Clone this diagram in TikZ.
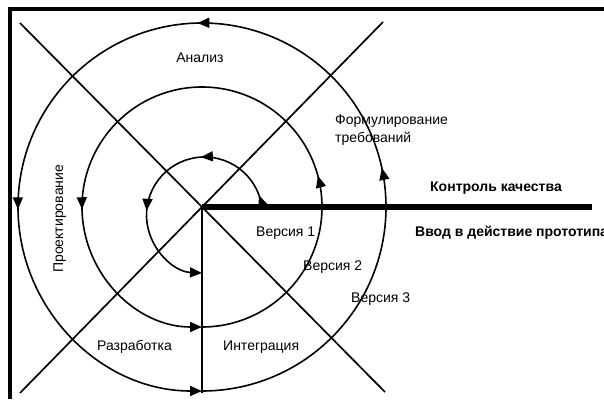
\documentclass[tikz,border=0pt]{standalone}
\usepackage{fontspec}
\setmainfont{Liberation Sans}
\usetikzlibrary{arrows.meta,decorations.markings}
\begin{document}
\begin{tikzpicture}[x=1pt,y=1pt,
  >={Triangle[length=12pt,width=10pt]},
  frame/.style={line width=4.5pt,line join=miter},
  thinline/.style={line width=1.7pt},
  thickline/.style={line width=6pt},
  curve/.style={line width=1.6pt},
  lbl/.style={font=\fontsize{14}{17}\selectfont,inner sep=0pt},
  blbl/.style={font=\fontsize{14}{17}\selectfont\bfseries,inner sep=0pt}
]
\useasboundingbox (0,0) rectangle (604,399);
% key points
\coordinate (C) at (202,192);
\coordinate (fbl) at (10,0);
\coordinate (ftl) at (10,390);
\coordinate (ftr) at (604,390);
\coordinate (dA1) at (20,376);
\coordinate (dA2) at (385,7);
\coordinate (dB1) at (383,377);
\coordinate (dB2) at (20,6);
\coordinate (vE) at (202,6);
\coordinate (hE) at (592,192);
\coordinate (ci) at (204.5,184);
% frame
\draw[frame] (fbl) -- (ftl) -- (ftr);
% axes
\draw[thinline] (dA1) -- (dA2);
\draw[thinline] (dB1) -- (dB2);
\draw[thinline] (C) -- (vE);
\draw[thickline] (C) -- (hE);
% outer circle
\draw[curve,->,postaction={decorate},decoration={markings,
   mark=at position 0.284 with {\arrow{>}},
   mark=at position 0.504 with {\arrow{>}},
   mark=at position 0.752 with {\arrow{>}}}]
   (C) ++(270:184) arc[start angle=270,end angle=630,radius=184];
% middle circle
\draw[curve,->,postaction={decorate},decoration={markings,
   mark=at position 0.292 with {\arrow{>}},
   mark=at position 0.753 with {\arrow{>}}}]
   (C) ++(270:120) arc[start angle=270,end angle=630,radius=120];
% inner arc
\draw[curve,->,postaction={decorate},decoration={markings,
   mark=at position 0.046 with {\arrow{>}},
   mark=at position 0.33 with {\arrow{>}},
   mark=at position 0.647 with {\arrow{>}}}]
   (ci) ++(7.9:58) arc[start angle=7.9,end angle=267.5,radius=58];
% labels
\node[lbl,anchor=base] (analiz) at (200,336) {Анализ};
\node[lbl,anchor=base west] (form1) at (335,274) {Формулирование};
\node[lbl,anchor=base west] (form2) at (335,256) {требований};
\node[blbl,anchor=base west] (kontrol) at (430,207) {Контроль качества};
\node[blbl,anchor=base west] (vvod) at (415,162) {Ввод в действие прототипа};
\node[lbl,anchor=base west] (v1) at (256,162) {Версия 1};
\node[lbl,anchor=base west] (v2) at (303,129) {Версия 2};
\node[lbl,anchor=base west] (v3) at (351,97) {Версия 3};
\node[lbl,anchor=base west,rotate=90] (proekt) at (63,126) {Проектирование};
\node[lbl,anchor=base west] (razr) at (97,49) {Разработка};
\node[lbl,anchor=base west] (integr) at (223,49) {Интеграция};
\end{tikzpicture}
\end{document}
